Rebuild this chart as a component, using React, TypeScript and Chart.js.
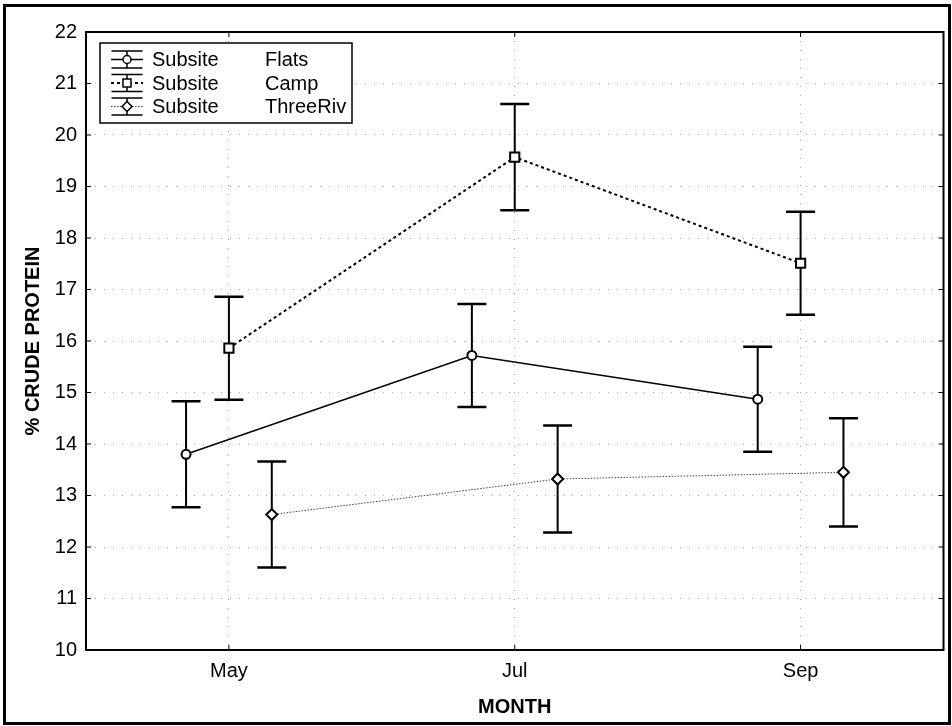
import React, { useEffect, useRef } from 'react';
import { Chart, registerables } from 'chart.js';

Chart.register(...registerables);

const months = ['May', 'Jul', 'Sep'];
const seriesNames = ['Flats', 'Camp', 'ThreeRiv'];
const flatsMean = [13.8, 15.72, 14.87];
const flatsErr = [1.03, 1.0, 1.02];
const campMean = [15.86, 19.57, 17.51];
const campErr = [1.0, 1.03, 1.0];
const threeRivMean = [12.63, 13.32, 13.45];
const threeRivErr = [1.03, 1.04, 1.05];
const seriesShift = [-0.15, 0, 0.15];
const yTickValues = [10, 11, 12, 13, 14, 15, 16, 17, 18, 19, 20, 21, 22];

const FONT = "'Liberation Sans', Arial, sans-serif";

type SeriesStyle = {
  dash: number[];
  width: number;
  color: string;
  marker: string;
  radius: number;
};

const styles: SeriesStyle[] = [
  { dash: [], width: 1.5, color: '#000', marker: 'circle', radius: 4.5 },
  { dash: [3, 3], width: 2, color: '#000', marker: 'rect', radius: 6.5 },
  { dash: [1.5, 1.5], width: 1, color: '#444', marker: 'rectRot', radius: 5.5 },
];

const means = [flatsMean, campMean, threeRivMean];
const errs = [flatsErr, campErr, threeRivErr];

const errorBarPlugin = {
  id: 'errorBars',
  beforeDatasetsDraw(chart: any) {
    const ctx = chart.ctx;
    const y = chart.scales.y;
    ctx.save();
    ctx.strokeStyle = '#000';
    chart.data.datasets.forEach((ds: any, i: number) => {
      const meta = chart.getDatasetMeta(i);
      meta.data.forEach((pt: any, j: number) => {
        const m = means[i][j];
        const e = errs[i][j];
        const yt = y.getPixelForValue(m + e);
        const yb = y.getPixelForValue(m - e);
        ctx.setLineDash([]);
        ctx.lineWidth = 2;
        ctx.beginPath();
        ctx.moveTo(pt.x, yt);
        ctx.lineTo(pt.x, yb);
        ctx.stroke();
        ctx.lineWidth = 2.5;
        ctx.beginPath();
        ctx.moveTo(pt.x - 14.5, yt);
        ctx.lineTo(pt.x + 14.5, yt);
        ctx.moveTo(pt.x - 14.5, yb);
        ctx.lineTo(pt.x + 14.5, yb);
        ctx.stroke();
      });
    });
    ctx.restore();
  },
};

const framePlugin = {
  id: 'frameAndLegend',
  afterDraw(chart: any) {
    const ctx = chart.ctx;
    const a = chart.chartArea;
    ctx.save();
    // plot border
    ctx.setLineDash([]);
    ctx.strokeStyle = '#000';
    ctx.lineWidth = 2;
    ctx.strokeRect(a.left, a.top, a.right - a.left, a.bottom - a.top);
    // inward tick marks
    ctx.lineWidth = 1;
    const ys = chart.scales.y;
    yTickValues.forEach((v) => {
      const py = ys.getPixelForValue(v);
      ctx.beginPath();
      ctx.moveTo(a.left, py);
      ctx.lineTo(a.left + 5, py);
      ctx.moveTo(a.right, py);
      ctx.lineTo(a.right - 5, py);
      ctx.stroke();
    });
    const xs = chart.scales.x;
    months.forEach((_, i) => {
      const px = xs.getPixelForValue(i);
      ctx.beginPath();
      ctx.moveTo(px, a.bottom);
      ctx.lineTo(px, a.bottom - 5);
      ctx.moveTo(px, a.top);
      ctx.lineTo(px, a.top + 5);
      ctx.stroke();
    });

    // legend
    const bx = a.left + 14;
    const by = a.top + 11;
    const bw = 252;
    const bh = 80;
    ctx.fillStyle = '#fff';
    ctx.fillRect(bx, by, bw, bh);
    ctx.lineWidth = 1.5;
    ctx.strokeStyle = '#000';
    ctx.strokeRect(bx, by, bw, bh);
    const rowY = [a.top + 27.5, a.top + 51, a.top + 74.5];
    const gx = bx + 27;
    seriesNames.forEach((name, i) => {
      const st = styles[i];
      const cy = rowY[i];
      ctx.setLineDash(st.dash);
      ctx.strokeStyle = st.color;
      ctx.lineWidth = st.width;
      ctx.beginPath();
      ctx.moveTo(gx - 16, cy);
      ctx.lineTo(gx + 16, cy);
      ctx.stroke();
      ctx.setLineDash([]);
      ctx.strokeStyle = '#000';
      ctx.lineWidth = 1.5;
      ctx.beginPath();
      ctx.moveTo(gx, cy - 8);
      ctx.lineTo(gx, cy + 8);
      ctx.moveTo(gx - 15.5, cy - 8.5);
      ctx.lineTo(gx + 15.5, cy - 8.5);
      ctx.moveTo(gx - 15.5, cy + 8.5);
      ctx.lineTo(gx + 15.5, cy + 8.5);
      ctx.stroke();
      ctx.fillStyle = '#fff';
      ctx.lineWidth = 1.5;
      const r = st.marker === 'circle' ? 4 : st.marker === 'rect' ? 5.5 : 5;
      ctx.beginPath();
      if (st.marker === 'circle') {
        ctx.arc(gx, cy, r, 0, Math.PI * 2);
      } else if (st.marker === 'rect') {
        ctx.rect(gx - 4, cy - 4, 8, 8);
      } else {
        ctx.moveTo(gx, cy - r);
        ctx.lineTo(gx + r, cy);
        ctx.lineTo(gx, cy + r);
        ctx.lineTo(gx - r, cy);
        ctx.closePath();
      }
      ctx.fill();
      ctx.stroke();
      ctx.fillStyle = '#000';
      ctx.font = `20px ${FONT}`;
      ctx.textBaseline = 'middle';
      ctx.textAlign = 'left';
      ctx.fillText('Subsite', bx + 52, cy + 1);
      ctx.fillText(name, bx + 165, cy + 1);
    });

    // outer frame
    ctx.setLineDash([]);
    ctx.strokeStyle = '#000';
    ctx.lineWidth = 3;
    ctx.strokeRect(4.5, 5.5, 945, 718);
    ctx.restore();
  },
};

export default function App() {
  const ref = useRef<HTMLCanvasElement>(null);

  useEffect(() => {
    if (!ref.current) return;
    const datasets = seriesNames.map((name, i) => ({
      label: name,
      data: means[i].map((v, j) => ({ x: j + seriesShift[i], y: v })),
      borderColor: styles[i].color,
      borderWidth: styles[i].width,
      borderDash: styles[i].dash,
      pointStyle: styles[i].marker,
      pointRadius: styles[i].radius,
      pointBorderWidth: 2,
      pointBorderColor: '#000',
      pointBackgroundColor: '#fff',
      tension: 0,
      fill: false,
    }));
    const chart = new Chart(ref.current, {
      type: 'line',
      data: { datasets },
      options: {
        responsive: false,
        animation: false,
        layout: { padding: { left: 0, top: 32, right: 5, bottom: 0 } },
        plugins: {
          legend: { display: false },
          tooltip: { enabled: false },
        },
        scales: {
          x: {
            type: 'linear',
            min: -0.5,
            max: 2.5,
            afterBuildTicks: (scale: any) => {
              scale.ticks = months.map((_, i) => ({ value: i }));
            },
            afterFit: (scale: any) => {
              scale.height = 76;
            },
            ticks: {
              callback: (v: any) => months[v] ?? '',
              color: '#000',
              font: { family: FONT, size: 20 },
              padding: 9,
              maxRotation: 0,
            },
            grid: {
              drawTicks: false,
              color: 'rgba(0,0,0,0.35)',
              lineWidth: 1,
            },
            border: { display: false, dash: [1, 8] },
            title: {
              display: true,
              text: 'MONTH',
              color: '#000',
              font: { family: FONT, size: 20, weight: 'bold' },
              padding: { top: 0, bottom: 7 },
            },
          },
          y: {
            type: 'linear',
            min: 10,
            max: 22,
            afterBuildTicks: (scale: any) => {
              scale.ticks = yTickValues.map((v) => ({ value: v }));
            },
            afterFit: (scale: any) => {
              scale.width = 86;
            },
            ticks: {
              color: '#000',
              font: { family: FONT, size: 20 },
              padding: 9,
            },
            grid: {
              drawTicks: false,
              color: 'rgba(0,0,0,0.35)',
              lineWidth: 1,
            },
            border: { display: false, dash: [1, 8] },
            title: {
              display: true,
              text: '% CRUDE PROTEIN',
              color: '#000',
              font: { family: FONT, size: 20, weight: 'bold' },
              padding: { top: 21, bottom: 0 },
            },
          },
        },
      },
      plugins: [errorBarPlugin, framePlugin],
    } as any);
    return () => chart.destroy();
  }, []);

  return (
    <div style={{ position: 'absolute', left: 0, top: 0, width: 952, height: 726, background: '#fff' }}>
      <canvas ref={ref} width={952} height={726} style={{ display: 'block' }} />
    </div>
  );
}
